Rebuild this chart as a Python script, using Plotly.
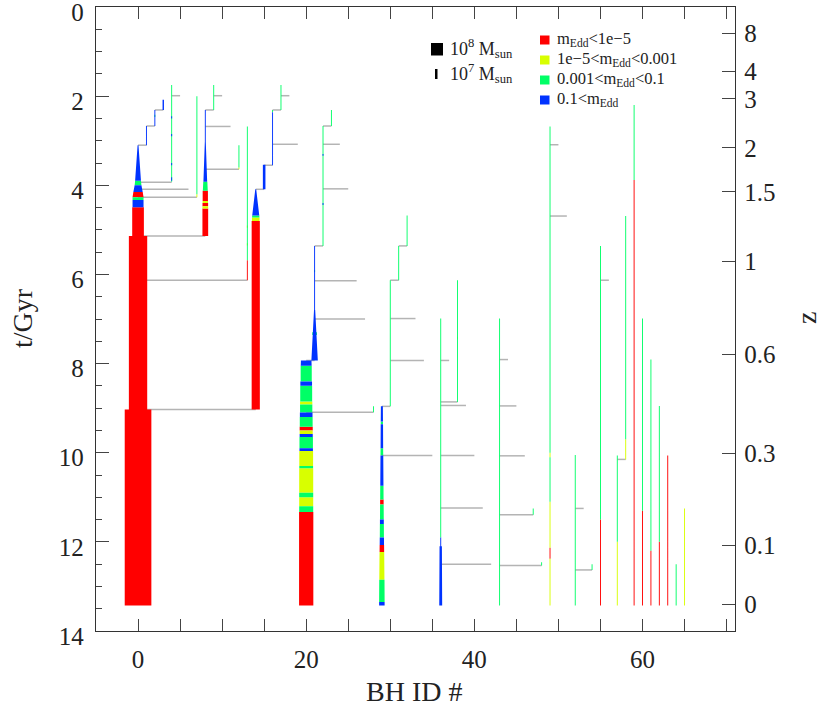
import plotly.graph_objects as go

# BH merger tree: vertical segments (ID, t_start, t_end, mass_start, mass_end, class)
# mass in 1e8 Msun, class = Eddington-ratio bin
tree_0 = [
    (0, 3.10, 3.90, 0.02, 0.50, "b"), (0, 3.90, 4.00, 0.50, 0.58, "g"),
    (0, 4.00, 4.15, 0.58, 0.80, "b"), (0, 4.15, 4.27, 0.80, 0.94, "r"),
    (0, 4.27, 4.33, 0.94, 0.94, "g"), (0, 4.33, 4.49, 0.94, 0.94, "b"),
    (0, 4.49, 5.14, 1.00, 1.00, "r"), (0, 5.14, 9.03, 1.57, 1.57, "r"),
    (0, 9.03, 13.43, 2.28, 2.28, "r"),
    (1, 2.67, 3.10, 0.03, 0.03, "b"), (2, 2.31, 2.67, 0.03, 0.03, "b"),
    (2, 2.42, 2.47, 0.05, 0.05, "g"), (3, 2.08, 2.31, 0.12, 0.12, "b"),
    (4, 1.75, 2.35, 0.02, 0.02, "g"), (4, 2.35, 3.92, 0.04, 0.04, "g"),
    (4, 2.45, 2.50, 0.06, 0.06, "b"), (4, 2.85, 2.90, 0.06, 0.06, "b"),
    (4, 3.50, 3.55, 0.06, 0.06, "b"), (4, 3.82, 3.90, 0.06, 0.06, "b"),
    (7, 2.00, 4.20, 0.02, 0.02, "g"), (7, 4.20, 4.27, 0.05, 0.05, "y"),
    (8, 2.31, 3.02, 0.03, 0.03, "b"), (8, 3.02, 3.92, 0.03, 0.32, "b"),
    (8, 3.92, 4.12, 0.35, 0.42, "g"), (8, 4.12, 4.35, 0.45, 0.45, "r"),
    (8, 4.35, 4.40, 0.47, 0.47, "y"), (8, 4.40, 4.47, 0.48, 0.48, "r"),
    (8, 4.47, 4.52, 0.49, 0.49, "y"), (8, 4.52, 5.14, 0.49, 0.49, "r"),
    (9, 1.75, 2.31, 0.02, 0.02, "g"),
    (12, 3.10, 3.60, 0.02, 0.02, "g"), (12, 3.60, 3.64, 0.05, 0.05, "y"),
    (13, 2.68, 5.68, 0.02, 0.02, "g"), (13, 5.68, 6.13, 0.02, 0.02, "r"),
    (13, 4.90, 4.95, 0.04, 0.04, "y"), (13, 5.30, 5.35, 0.04, 0.04, "y"),
    (14, 4.09, 4.68, 0.02, 0.60, "b"), (14, 4.68, 4.72, 0.62, 0.62, "g"),
    (14, 4.72, 4.80, 0.65, 0.65, "y"), (14, 4.80, 9.03, 0.70, 0.70, "r"),
    (15, 3.54, 4.09, 0.22, 0.22, "b"),
    (16, 2.31, 2.36, 0.04, 0.04, "g"), (16, 2.36, 3.55, 0.04, 0.04, "b"),
    (17, 1.75, 2.31, 0.02, 0.02, "g"),
]

tree_20 = [
    (20, 7.93, 8.05, 0.90, 0.93, "b"), (20, 8.05, 8.40, 0.95, 0.95, "g"),
    (20, 8.40, 8.50, 1.00, 1.00, "b"), (20, 8.50, 8.85, 1.02, 1.02, "g"),
    (20, 8.85, 8.92, 1.05, 1.05, "y"), (20, 8.92, 9.10, 1.05, 1.05, "g"),
    (20, 9.10, 9.20, 1.08, 1.08, "b"), (20, 9.20, 9.42, 1.10, 1.10, "g"),
    (20, 9.42, 9.50, 1.12, 1.12, "r"), (20, 9.50, 9.58, 1.12, 1.12, "y"),
    (20, 9.58, 9.65, 1.12, 1.12, "b"), (20, 9.65, 9.90, 1.15, 1.15, "g"),
    (20, 9.90, 9.96, 1.15, 1.15, "b"), (20, 9.96, 10.30, 1.18, 1.18, "y"),
    (20, 10.30, 10.35, 1.18, 1.18, "g"), (20, 10.35, 10.90, 1.20, 1.20, "y"),
    (20, 10.90, 11.00, 1.20, 1.20, "g"), (20, 11.00, 11.20, 1.20, 1.20, "y"),
    (20, 11.20, 11.33, 1.20, 1.20, "g"), (20, 11.33, 13.43, 1.22, 1.22, "r"),
    (21, 5.36, 6.80, 0.04, 0.08, "b"), (21, 6.80, 7.93, 0.10, 0.55, "b"),
    (21, 7.30, 7.36, 0.40, 0.40, "g"), (21, 5.90, 5.95, 0.06, 0.06, "g"),
    (22, 2.67, 5.36, 0.03, 0.03, "g"), (22, 3.30, 3.34, 0.05, 0.05, "b"),
    (22, 4.40, 4.44, 0.05, 0.05, "b"),
    (23, 2.31, 2.67, 0.02, 0.02, "g"), (28, 8.96, 9.09, 0.02, 0.02, "g"),
]

tree_29 = [
    (29, 8.96, 9.30, 0.17, 0.19, "b"), (29, 9.30, 9.36, 0.19, 0.19, "g"),
    (29, 9.36, 9.90, 0.20, 0.22, "b"), (29, 9.90, 10.06, 0.22, 0.23, "g"),
    (29, 10.06, 10.74, 0.24, 0.27, "b"), (29, 10.74, 11.05, 0.28, 0.29, "g"),
    (29, 11.05, 11.16, 0.30, 0.30, "r"), (29, 11.16, 11.50, 0.31, 0.32, "g"),
    (29, 11.50, 11.60, 0.33, 0.33, "b"), (29, 11.60, 11.90, 0.34, 0.35, "g"),
    (29, 11.90, 12.07, 0.36, 0.37, "b"), (29, 12.07, 12.23, 0.38, 0.39, "r"),
    (29, 12.23, 12.85, 0.40, 0.44, "y"), (29, 12.85, 13.35, 0.45, 0.47, "g"),
    (29, 13.35, 13.43, 0.47, 0.47, "b"),
    (30, 6.13, 8.96, 0.03, 0.03, "g"), (31, 5.36, 6.13, 0.02, 0.02, "g"),
    (32, 4.68, 5.36, 0.02, 0.02, "g"),
]

tree_36 = [
    (36, 6.99, 11.90, 0.04, 0.04, "g"), (36, 11.90, 12.10, 0.06, 0.06, "b"),
    (36, 12.10, 13.43, 0.20, 0.25, "b"),
    (38, 6.13, 8.86, 0.02, 0.02, "g"), (38, 7.40, 7.45, 0.04, 0.04, "y"),
    (43, 6.99, 13.43, 0.05, 0.05, "g"), (47, 11.25, 11.39, 0.02, 0.02, "g"),
    (48, 12.46, 12.53, 0.02, 0.02, "g"),
]

tree_49 = [
    (49, 2.68, 10.00, 0.05, 0.05, "g"), (49, 10.00, 10.10, 0.06, 0.06, "y"),
    (49, 10.10, 11.10, 0.06, 0.06, "g"), (49, 11.10, 12.13, 0.07, 0.07, "y"),
    (49, 12.13, 12.38, 0.08, 0.08, "r"), (49, 12.38, 13.43, 0.08, 0.08, "y"),
    (52, 10.05, 13.43, 0.02, 0.02, "g"), (54, 12.50, 12.63, 0.02, 0.02, "g"),
    (55, 5.36, 11.50, 0.02, 0.02, "g"), (55, 11.50, 13.43, 0.02, 0.02, "r"),
    (57, 10.06, 12.00, 0.02, 0.02, "g"), (57, 12.00, 13.43, 0.02, 0.02, "y"),
    (58, 4.69, 9.70, 0.02, 0.02, "g"), (58, 9.70, 10.15, 0.02, 0.02, "y"),
    (59, 2.20, 3.88, 0.02, 0.02, "g"), (59, 3.88, 13.43, 0.02, 0.02, "r"),
    (60, 6.99, 11.30, 0.02, 0.02, "g"), (60, 11.30, 13.43, 0.02, 0.02, "r"),
    (61, 7.91, 12.20, 0.02, 0.02, "g"), (61, 12.20, 13.43, 0.02, 0.02, "r"),
    (62, 8.95, 12.00, 0.02, 0.02, "g"), (62, 12.00, 13.43, 0.02, 0.02, "r"),
    (63, 10.06, 13.43, 0.02, 0.02, "r"), (64, 12.50, 13.43, 0.02, 0.02, "g"),
    (65, 11.25, 13.43, 0.02, 0.02, "y"),
]

# mergers: (t, from ID, to ID)
mergers = [
    (3.10, 0, 1), (2.67, 1, 2), (2.31, 2, 3), (1.99, 4, 5), (3.93, 0, 4),
    (4.09, 0, 6), (4.27, 0, 7), (5.14, 0, 8), (6.13, 0, 13), (9.03, 0, 14),
    (2.31, 8, 9), (1.99, 9, 10), (2.68, 8, 11), (3.64, 8, 12),
    (4.09, 14, 15), (3.55, 15, 16), (3.08, 16, 19), (2.31, 16, 17), (1.99, 17, 18),
    (7.93, 20, 21), (9.09, 20, 28), (5.36, 21, 22), (6.14, 21, 26), (7.00, 21, 27),
    (2.67, 22, 23), (3.08, 22, 24), (4.08, 22, 25),
    (8.96, 29, 30), (10.06, 29, 35), (6.13, 30, 31), (6.99, 30, 33), (7.93, 30, 34),
    (5.36, 31, 32),
    (7.93, 36, 37), (8.86, 36, 38), (8.94, 36, 39), (10.06, 36, 40), (11.24, 36, 41),
    (12.50, 36, 42),
    (7.91, 43, 44), (8.95, 43, 45), (10.07, 43, 46), (11.39, 43, 47), (12.53, 43, 48),
    (3.09, 49, 50), (4.69, 49, 51), (11.25, 52, 53), (12.63, 52, 54), (6.13, 55, 56),
    (10.15, 57, 58),
]

class_keys = ["r", "y", "g", "b"]
class_labels = ["m<sub>Edd</sub>&lt;1e\u22125", "1e\u22125&lt;m<sub>Edd</sub>&lt;0.001",
                "0.001&lt;m<sub>Edd</sub>&lt;0.1", "0.1&lt;m<sub>Edd</sub>"]
class_colors = ["#ff0000", "#d8ff00", "#00ff66", "#0033ff"]

t_ticks = [0, 2, 4, 6, 8, 10, 12, 14]
z_labels = ["8", "4", "3", "2", "1.5", "1", "0.6", "0.3", "0.1", "0"]
z_times = [0.60, 1.45, 2.06, 3.16, 4.15, 5.71, 7.79, 10.02, 12.08, 13.41]

FONT = "Liberation Serif"
MASS_SCALE = 1.39   # x-units per 1e8 Msun
W_MIN = 0.11

fig = go.Figure()

# merger connectors
mx, my = [], []
for t, a, b in mergers:
    mx += [a, b, None]
    my += [t, t, None]
fig.add_trace(go.Scatter(x=mx, y=my, mode="lines", line=dict(color="#b4b4b4", width=1.5),
                         hoverinfo="skip", showlegend=False))

segments = tree_0 + tree_20 + tree_29 + tree_36 + tree_49
for key, col in zip(class_keys, class_colors):
    xs, ys = [], []
    for bid, t0, t1, m0, m1, c in segments:
        if c != key:
            continue
        w0 = max(MASS_SCALE * m0, W_MIN) / 2
        w1 = max(MASS_SCALE * m1, W_MIN) / 2
        xs += [bid - w0, bid + w0, bid + w1, bid - w1, bid - w0, None]
        ys += [t0, t0, t1, t1, t0, None]
    fig.add_trace(go.Scatter(x=xs, y=ys, mode="lines", fill="toself", fillcolor=col,
                             line=dict(width=0), hoverinfo="skip", showlegend=False))

# right-hand redshift axis
fig.add_trace(go.Scatter(x=[None], y=[None], yaxis="y2", showlegend=False))

L, R, T, B = 96, 95, 7, 80
W, H = 830, 711


def px(x):
    return (x - L) / (W - L - R)


def py(y):
    return 1 - (y - T) / (H - T - B)


# legend: mass bars
fig.add_shape(type="rect", xref="paper", yref="paper", x0=px(431), x1=px(443),
              y0=py(43), y1=py(55.5), fillcolor="black", line_width=0)
fig.add_shape(type="rect", xref="paper", yref="paper", x0=px(435), x1=px(437.5),
              y0=py(69), y1=py(79), fillcolor="black", line_width=0)
for yy, txt in [(49, "10<sup>8</sup> M<sub>sun</sub>"), (74, "10<sup>7</sup> M<sub>sun</sub>")]:
    fig.add_annotation(x=px(448), y=py(yy), xref="paper", yref="paper", text=txt,
                       showarrow=False, xanchor="left", yanchor="middle",
                       font=dict(family=FONT, size=18, color="#222"))

# legend: Eddington classes
for i, (lab, col) in enumerate(zip(class_labels, class_colors)):
    yc = 40 + 20 * i
    fig.add_shape(type="rect", xref="paper", yref="paper", x0=px(540), x1=px(549.5),
                  y0=py(yc - 4.5), y1=py(yc + 4.5), fillcolor=col, line_width=0)
    fig.add_annotation(x=px(555), y=py(yc - 1), xref="paper", yref="paper", text=lab,
                       showarrow=False, xanchor="left", yanchor="middle",
                       font=dict(family=FONT, size=16.5, color="#222"))

# axis titles
title_font = dict(family=FONT, size=28, color="#222")
fig.add_annotation(x=px(22), y=py(318), xref="paper", yref="paper", text="t/Gyr",
                   textangle=-90, showarrow=False, xanchor="center", yanchor="middle",
                   font=title_font)
fig.add_annotation(x=px(414), y=py(691), xref="paper", yref="paper", text="BH ID #",
                   showarrow=False, xanchor="center", yanchor="middle", font=title_font)
fig.add_annotation(x=px(806), y=py(318), xref="paper", yref="paper", text="z",
                   textangle=-90, showarrow=False, xanchor="center", yanchor="middle",
                   font=title_font)

axis_font = dict(family=FONT, size=25, color="#222")
fig.update_layout(
    width=W, height=H, margin=dict(l=L, r=R, t=T, b=B, autoexpand=False),
    paper_bgcolor="white", plot_bgcolor="white", showlegend=False,
    xaxis=dict(range=[-5, 71], tickvals=[0, 20, 40, 60], ticks="inside", ticklen=12,
               tickwidth=1.2, tickcolor="#444", showline=True, linecolor="#333",
               linewidth=1.3, mirror="allticks", showgrid=False, zeroline=False,
               tickfont=axis_font, ticklabelstandoff=6, automargin=False,
               minor=dict(ticks="inside", dtick=5, tick0=0, ticklen=6, tickcolor="#444",
                          showgrid=False)),
    yaxis=dict(range=[14, 0], tickvals=t_ticks, ticks="inside", ticklen=13, tickwidth=1.2,
               tickcolor="#444", showline=True, linecolor="#333", linewidth=1.3,
               showgrid=False, zeroline=False, tickfont=axis_font, ticklabelstandoff=6,
               ticklabelshift=-5, ticklabeloverflow="allow", automargin=False,
               minor=dict(ticks="inside", dtick=0.5, tick0=0, ticklen=6, tickcolor="#444",
                          showgrid=False)),
    yaxis2=dict(range=[14, 0], overlaying="y", side="right", tickvals=z_times,
                ticktext=z_labels, ticks="inside", ticklen=13, tickwidth=1.2,
                tickcolor="#444", showline=True, linecolor="#333", linewidth=1.3,
                showgrid=False, zeroline=False, tickfont=axis_font, ticklabelstandoff=3,
                automargin=False),
)

fig.write_html("out.html", config={"displayModeBar": False},
               post_script="document.body.style.margin='0';")
